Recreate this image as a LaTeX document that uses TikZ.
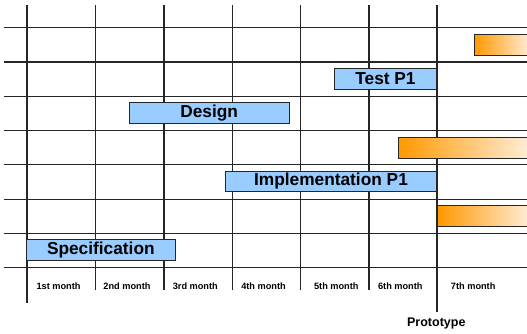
\documentclass[tikz,border=0pt]{standalone}
\usepackage{fontspec}
\setmainfont{Liberation Sans}
\definecolor{taskblue}{HTML}{99CCFF}
\definecolor{protoorange}{HTML}{FF9900}
\definecolor{protolight}{HTML}{FFEFDC}
\begin{document}
\begin{tikzpicture}[x=1pt,y=-1pt,
  grid/.style={line width=1.1pt, black!85},
  task/.style={draw=black!85, line width=1pt, fill=taskblue, inner sep=0pt, font=\fontsize{17.3}{20}\selectfont\bfseries},
  protobar/.style={draw=black!85, line width=1pt, left color=protoorange, right color=protolight, inner sep=0pt, anchor=west},
  month/.style={font=\fontsize{9.2}{11}\selectfont\bfseries, inner sep=0pt},
  milestone/.style={font=\fontsize{12.5}{14}\selectfont\bfseries, inner sep=0pt},
]
\useasboundingbox (0,0) rectangle (527,333);
\begin{scope}
\clip (0,0) rectangle (527,333);
% grid
\foreach \y in {27.7,62,96.3,130.6,164.9,199.2,233.5,267.8}
  \draw[grid] (4,\y) -- (527,\y);
\draw[grid] (27,5) -- (27,303);
\foreach \x in {95.5,164,232.5,300.5,369}
  \draw[grid] (\x,5) -- (\x,290);
\draw[grid] (437,5) -- (437,312);
% tasks
\node[task, minimum width=148.3pt, minimum height=21pt] (spec) at (100.85,249.8) {Specification};
\node[task, minimum width=159.7pt, minimum height=21pt] (design) at (209.15,113.2) {Design};
\node[task, minimum width=102.4pt, minimum height=21pt] (test) at (385.5,78.8) {Test P1};
\node[task, minimum width=211.4pt, minimum height=20.7pt] (impl) at (331,181.35) {Implementation P1};
% prototype bars (cut off at right edge)
\node[protobar, minimum height=20.7pt, minimum width=57pt] (pa) at (473.7,44.65) {};
\node[protobar, minimum height=21pt, minimum width=133pt] (pb) at (398,148.2) {};
\node[protobar, minimum height=20.7pt, minimum width=94pt] (pc) at (437,215.65) {};
\end{scope}
% month labels
\node[month] (m1) at (58.5,286.7) {1st month};
\node[month] (m2) at (127,286.7) {2nd month};
\node[month] (m3) at (195.3,286.7) {3rd month};
\node[month] (m4) at (263.5,286.7) {4th month};
\node[month] (m5) at (336.3,286.7) {5th month};
\node[month] (m6) at (400.3,286.7) {6th month};
\node[month] (m7) at (473.2,286.7) {7th month};
\node[milestone] (proto) at (436.3,323.3) {Prototype};
\end{tikzpicture}
\end{document}
